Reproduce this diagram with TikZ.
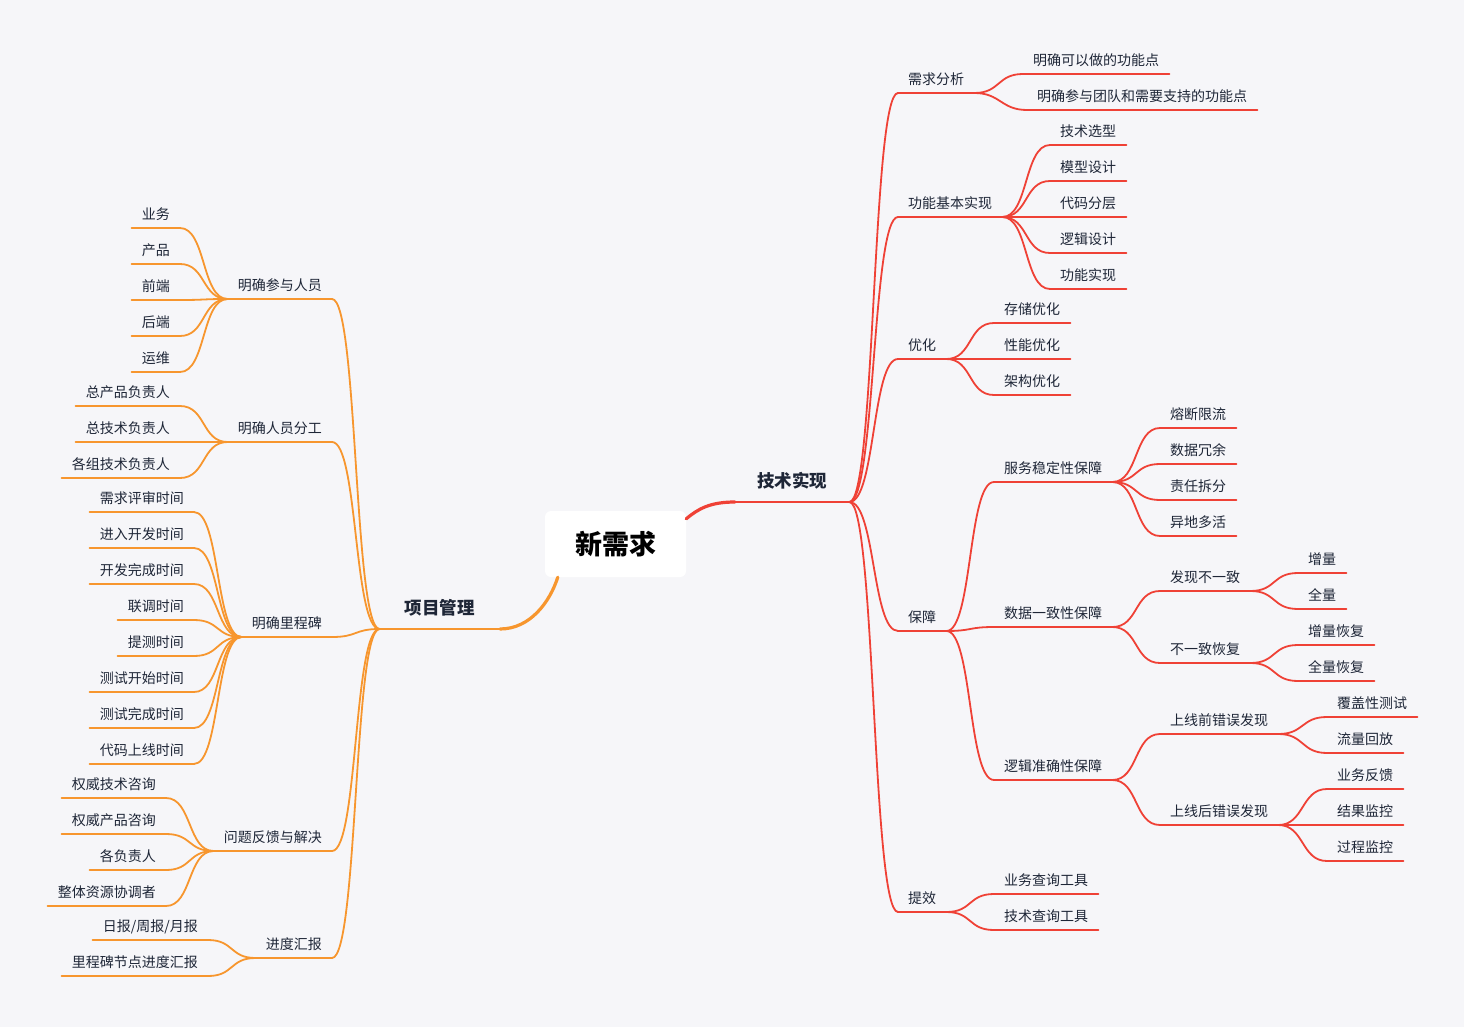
\documentclass[tikz,border=0pt]{standalone}
\usepackage{fontspec}
\newfontfamily\cjk{Noto Sans CJK SC}
\definecolor{bg}{HTML}{F6F6F9}
\definecolor{ink}{HTML}{1E2637}
\definecolor{redline}{HTML}{EF4136}
\definecolor{orangeline}{HTML}{F7962E}
\begin{document}
\begin{tikzpicture}[x=1pt,y=-1pt,line join=round,line cap=round,
	rt/.style={anchor=south west,inner xsep=10pt,inner ysep=5pt,text height=11pt,text depth=3pt,text=ink,font=\cjk\fontsize{14pt}{16pt}\selectfont},
	lt/.style={rt,anchor=south east},
	main/.style={inner xsep=22pt,inner ysep=10pt,text height=14pt,text depth=4pt,text=ink,font=\cjk\bfseries\fontsize{17.5pt}{20pt}\selectfont},
	rl/.style={draw=redline,line width=1.8pt},
	ol/.style={draw=orangeline,line width=1.8pt}] %思维导图
	\fill[bg] (0,0) rectangle (1464,1027);
	\node[fill=white,rounded corners=6pt,minimum width=141pt,minimum height=66pt,font=\cjk\bfseries\fontsize{27pt}{30pt}\selectfont] (root) at (615.5,544) {新需求};
	\node[main,anchor=south west] (jssx) at (735,502) {技术实现};
	\node[main,anchor=south east,inner xsep=25pt] (xmgl) at (500,629) {项目管理};
	% 技术实现
	\node[rt] (xqfx) at (898,93) {需求分析};
	\node[rt] (gnjb) at (898,217) {功能基本实现};
	\node[rt] (yh) at (898,359) {优化};
	\node[rt] (bz) at (898,631) {保障};
	\node[rt] (tx) at (898,912) {提效};
	\node[rt] (kyz) at (1023,74) {明确可以做的功能点};
	\node[rt] (tdzc) at (1027,110) {明确参与团队和需要支持的功能点};
	\node[rt] (jsxx) at (1050,145) {技术选型};
	\node[rt] (mxsj) at (1050,181) {模型设计};
	\node[rt] (dmfc) at (1050,217) {代码分层};
	\node[rt] (ljsj) at (1050,253) {逻辑设计};
	\node[rt] (gnsx) at (1050,289) {功能实现};
	\node[rt] (ccyh) at (994,323) {存储优化};
	\node[rt] (xnyh) at (994,359) {性能优化};
	\node[rt] (jgyh) at (994,395) {架构优化};
	\node[rt] (fwwd) at (994,482) {服务稳定性保障};
	\node[rt] (sjyz) at (994,627) {数据一致性保障};
	\node[rt] (ljzq) at (994,780) {逻辑准确性保障};
	\node[rt] (rdxl) at (1160,428) {熔断限流};
	\node[rt] (sjry) at (1160,464) {数据冗余};
	\node[rt] (zrcf) at (1160,500) {责任拆分};
	\node[rt] (ydhd) at (1160,536) {异地多活};
	\node[rt] (fxbyz) at (1160,591) {发现不一致};
	\node[rt] (byzhf) at (1160,663) {不一致恢复};
	\node[rt] (zl) at (1298,573) {增量};
	\node[rt] (ql) at (1298,609) {全量};
	\node[rt] (zlhf) at (1298,645) {增量恢复};
	\node[rt] (qlhf) at (1298,681) {全量恢复};
	\node[rt] (sxq) at (1160,734) {上线前错误发现};
	\node[rt] (sxh) at (1160,825) {上线后错误发现};
	\node[rt] (fgcs) at (1327,717) {覆盖性测试};
	\node[rt] (llhf) at (1327,753) {流量回放};
	\node[rt] (ywfk) at (1327,789) {业务反馈};
	\node[rt] (jgjk) at (1327,825) {结果监控};
	\node[rt] (gcjk) at (1327,861) {过程监控};
	\node[rt] (ywcx) at (994,894) {业务查询工具};
	\node[rt] (jscx) at (994,930) {技术查询工具};
	% 项目管理
	\node[lt] (cyry) at (332,299) {明确参与人员};
	\node[lt] (ryfg) at (332,442) {明确人员分工};
	\node[lt] (lcb) at (332,637) {明确里程碑};
	\node[lt] (wtfk) at (332,851) {问题反馈与解决};
	\node[lt] (jdhb) at (332,958) {进度汇报};
	\node[lt] (yewu) at (180,228) {业务};
	\node[lt] (chp) at (180,264) {产品};
	\node[lt] (qiand) at (180,300) {前端};
	\node[lt] (houd) at (180,336) {后端};
	\node[lt] (yunw) at (180,372) {运维};
	\node[lt] (zcp) at (180,406) {总产品负责人};
	\node[lt] (zjs) at (180,442) {总技术负责人};
	\node[lt] (gzjs) at (180,478) {各组技术负责人};
	\node[lt] (pssj) at (194,512) {需求评审时间};
	\node[lt] (kfsj) at (194,548) {进入开发时间};
	\node[lt] (wcsj) at (194,584) {开发完成时间};
	\node[lt] (ltsj) at (194,620) {联调时间};
	\node[lt] (tcsj) at (194,656) {提测时间};
	\node[lt] (csks) at (194,692) {测试开始时间};
	\node[lt] (cswc) at (194,728) {测试完成时间};
	\node[lt] (sxsj) at (194,764) {代码上线时间};
	\node[lt] (jszx) at (166,798) {权威技术咨询};
	\node[lt] (cpzx) at (166,834) {权威产品咨询};
	\node[lt] (gfzr) at (166,870) {各负责人};
	\node[lt] (xtz) at (166,906) {整体资源协调者};
	\node[lt] (rzyb) at (208,940) {日报/周报/月报};
	\node[lt] (lcbhb) at (208,976) {里程碑节点进度汇报};
	% 中心连线
	\draw[rl,line width=3.2pt] ([yshift=-8pt]root.north east) .. controls +(12,-10) and +(-25,0) .. (jssx.south west);
	\draw[ol,line width=3.2pt] ([xshift=13pt]root.south west) .. controls +(-8,25) and +(30,0) .. (xmgl.south east);
	% 下划线
	\foreach \n in {jssx,xqfx,gnjb,yh,bz,tx,kyz,tdzc,jsxx,mxsj,dmfc,ljsj,gnsx,ccyh,xnyh,jgyh,fwwd,sjyz,ljzq,rdxl,sjry,zrcf,ydhd,fxbyz,byzhf,zl,ql,zlhf,qlhf,sxq,sxh,fgcs,llhf,ywfk,jgjk,gcjk,ywcx,jscx}
		\draw[rl] (\n.south west) -- (\n.south east);
	\foreach \n in {xmgl,cyry,ryfg,lcb,wtfk,jdhb,yewu,chp,qiand,houd,yunw,zcp,zjs,gzjs,pssj,kfsj,wcsj,ltsj,tcsj,csks,cswc,sxsj,jszx,cpzx,gfzr,xtz,rzyb,lcbhb}
		\draw[ol] (\n.south west) -- (\n.south east);
	% 右侧分支
	\foreach \p/\c in {jssx/xqfx,jssx/gnjb,jssx/yh,jssx/bz,jssx/tx,xqfx/kyz,xqfx/tdzc,gnjb/jsxx,gnjb/mxsj,gnjb/dmfc,gnjb/ljsj,gnjb/gnsx,yh/ccyh,yh/xnyh,yh/jgyh,bz/fwwd,bz/sjyz,bz/ljzq,fwwd/rdxl,fwwd/sjry,fwwd/zrcf,fwwd/ydhd,sjyz/fxbyz,sjyz/byzhf,fxbyz/zl,fxbyz/ql,byzhf/zlhf,byzhf/qlhf,ljzq/sxq,ljzq/sxh,sxq/fgcs,sxq/llhf,sxh/ywfk,sxh/jgjk,sxh/gcjk,tx/ywcx,tx/jscx}
		\draw[rl] (\p.south east) .. controls +(26,0) and +(-26,0) .. (\c.south west);
	% 左侧分支
	\foreach \p/\c in {xmgl/cyry,xmgl/ryfg,xmgl/lcb,xmgl/wtfk,xmgl/jdhb,cyry/yewu,cyry/chp,cyry/qiand,cyry/houd,cyry/yunw,ryfg/zcp,ryfg/zjs,ryfg/gzjs,lcb/pssj,lcb/kfsj,lcb/wcsj,lcb/ltsj,lcb/tcsj,lcb/csks,lcb/cswc,lcb/sxsj,wtfk/jszx,wtfk/cpzx,wtfk/gfzr,wtfk/xtz,jdhb/rzyb,jdhb/lcbhb}
		\draw[ol] (\p.south west) .. controls +(-26,0) and +(26,0) .. (\c.south east);
\end{tikzpicture}
\end{document}
